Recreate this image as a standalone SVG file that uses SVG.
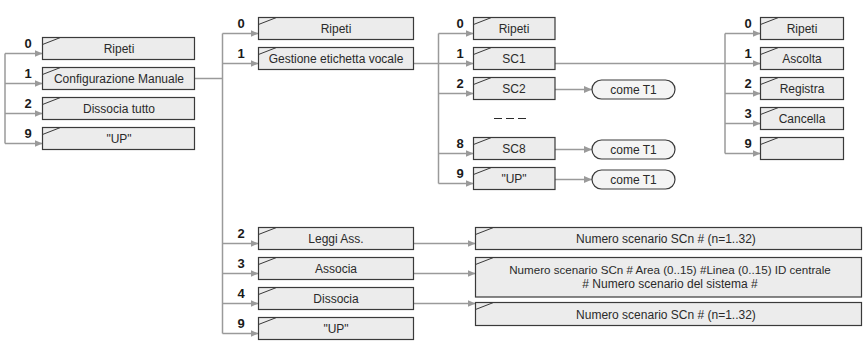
<svg xmlns="http://www.w3.org/2000/svg" width="865" height="342" viewBox="0 0 865 342">
<defs>
<style>
.bx{fill:#ececec;stroke:#3a3a3a;stroke-width:1.2}
.dg{stroke:#3a3a3a;stroke-width:1;fill:none}
.pl{fill:#f4f4f4;stroke:#3a3a3a;stroke-width:1.2}
.t{font-family:"Liberation Sans",Arial,sans-serif;font-size:12px;fill:#2a2a2a;text-anchor:middle}
.tl{font-size:11.6px}
.n{font-family:"Liberation Sans",Arial,sans-serif;font-size:13px;font-weight:bold;fill:#1a1a1a;text-anchor:middle}
.c{stroke:#9a9a9a;stroke-width:1.5;fill:none}
.a{stroke:#9a9a9a;stroke-width:1.5;fill:none;marker-end:url(#ah)}
</style>
<marker id="ah" viewBox="0 0 8 8" refX="8" refY="4" markerWidth="8" markerHeight="8" markerUnits="userSpaceOnUse" orient="auto">
<path d="M0,0.5 L8,4 L0,7.5 z" fill="#9a9a9a"/>
</marker>
</defs>

<g id="connectors">
<path class="c" d="M5,53.5 V143.5"/>
<path class="a" d="M5,53.5 H42.5"/>
<path class="a" d="M5,83.5 H42.5"/>
<path class="a" d="M5,113.5 H42.5"/>
<path class="a" d="M5,143.5 H42.5"/>
<path class="c" d="M194.5,78.5 H222.5"/>
<path class="c" d="M222.5,33.5 V333.5"/>
<path class="a" d="M222.5,33.5 H258.5"/>
<path class="a" d="M222.5,63.5 H258.5"/>
<path class="a" d="M222.5,243.5 H258.5"/>
<path class="a" d="M222.5,273.5 H258.5"/>
<path class="a" d="M222.5,303.5 H258.5"/>
<path class="a" d="M222.5,333.5 H258.5"/>
<path class="c" d="M413.5,63.5 H438.5"/>
<path class="c" d="M438.5,33.5 V183.5"/>
<path class="a" d="M438.5,33.5 H473.5"/>
<path class="a" d="M438.5,63.5 H473.5"/>
<path class="a" d="M438.5,93.5 H473.5"/>
<path class="a" d="M438.5,153.5 H473.5"/>
<path class="a" d="M438.5,183.5 H473.5"/>
<path class="c" d="M555,63.5 H725"/>
<path class="c" d="M725,33.5 V153.5"/>
<path class="a" d="M725,33.5 H760.5"/>
<path class="a" d="M725,63.5 H760.5"/>
<path class="a" d="M725,93.5 H760.5"/>
<path class="a" d="M725,123.5 H760.5"/>
<path class="a" d="M725,153.5 H760.5"/>
<path class="a" d="M555,89.5 H592"/>
<path class="a" d="M555,149.5 H592"/>
<path class="a" d="M555,179.5 H592"/>
<path class="a" d="M413.5,243.5 H475.5"/>
<path class="a" d="M413.5,273.5 H475.5"/>
<path class="a" d="M413.5,303.5 H475.5"/>
</g>

<g id="l0"><text class="n" x="28" y="48">0</text><rect class="bx" x="42.5" y="37.5" width="152" height="22"/><path class="dg" d="M42.5,44.5 L60.5,37.5"/><text class="t" x="119" y="53">Ripeti</text></g>
<g id="l1"><text class="n" x="28" y="78">1</text><rect class="bx" x="42.5" y="67.5" width="152" height="22"/><path class="dg" d="M42.5,74.5 L60.5,67.5"/><text class="t" x="119" y="83">Configurazione Manuale</text></g>
<g id="l2"><text class="n" x="28" y="108">2</text><rect class="bx" x="42.5" y="97.5" width="152" height="22"/><path class="dg" d="M42.5,104.5 L60.5,97.5"/><text class="t" x="119" y="113">Dissocia tutto</text></g>
<g id="l9"><text class="n" x="28" y="138">9</text><rect class="bx" x="42.5" y="127.5" width="152" height="22"/><path class="dg" d="M42.5,134.5 L60.5,127.5"/><text class="t" x="119" y="143">"UP"</text></g>

<g id="m0"><text class="n" x="241" y="28">0</text><rect class="bx" x="258.5" y="17.5" width="155" height="22"/><path class="dg" d="M258.5,24.5 L276.5,17.5"/><text class="t" x="336" y="33">Ripeti</text></g>
<g id="m1"><text class="n" x="241" y="58">1</text><rect class="bx" x="258.5" y="47.5" width="155" height="22"/><path class="dg" d="M258.5,54.5 L276.5,47.5"/><text class="t" x="336" y="63">Gestione etichetta vocale</text></g>
<g id="m2"><text class="n" x="241" y="238">2</text><rect class="bx" x="258.5" y="227.5" width="155" height="22"/><path class="dg" d="M258.5,234.5 L276.5,227.5"/><text class="t" x="336" y="243">Leggi Ass.</text></g>
<g id="m3"><text class="n" x="241" y="268">3</text><rect class="bx" x="258.5" y="257.5" width="155" height="22"/><path class="dg" d="M258.5,264.5 L276.5,257.5"/><text class="t" x="336" y="273">Associa</text></g>
<g id="m4"><text class="n" x="241" y="298">4</text><rect class="bx" x="258.5" y="287.5" width="155" height="22"/><path class="dg" d="M258.5,294.5 L276.5,287.5"/><text class="t" x="336" y="303">Dissocia</text></g>
<g id="m9"><text class="n" x="241" y="328">9</text><rect class="bx" x="258.5" y="317.5" width="155" height="22"/><path class="dg" d="M258.5,324.5 L276.5,317.5"/><text class="t" x="336" y="333">"UP"</text></g>

<g id="s0"><text class="n" x="460" y="28">0</text><rect class="bx" x="473.5" y="17.5" width="81.5" height="22"/><path class="dg" d="M473.5,24.5 L491.5,17.5"/><text class="t" x="514" y="33">Ripeti</text></g>
<g id="s1"><text class="n" x="460" y="58">1</text><rect class="bx" x="473.5" y="47.5" width="81.5" height="22"/><path class="dg" d="M473.5,54.5 L491.5,47.5"/><text class="t" x="514" y="63">SC1</text></g>
<g id="s2"><text class="n" x="460" y="88">2</text><rect class="bx" x="473.5" y="77.5" width="81.5" height="22"/><path class="dg" d="M473.5,84.5 L491.5,77.5"/><text class="t" x="514" y="93">SC2</text></g>
<g id="dots"><path d="M494,118.5 H526" stroke="#2a2a2a" stroke-width="1.2" stroke-dasharray="8 4"/></g>
<g id="s8"><text class="n" x="460" y="148">8</text><rect class="bx" x="473.5" y="137.5" width="81.5" height="22"/><path class="dg" d="M473.5,144.5 L491.5,137.5"/><text class="t" x="514" y="153">SC8</text></g>
<g id="s9"><text class="n" x="460" y="178">9</text><rect class="bx" x="473.5" y="167.5" width="81.5" height="22"/><path class="dg" d="M473.5,174.5 L491.5,167.5"/><text class="t" x="514" y="183">"UP"</text></g>

<g id="p2"><rect class="pl" x="592" y="80" width="83" height="19" rx="9.5"/><text class="t" x="633.5" y="94">come T1</text></g>
<g id="p8"><rect class="pl" x="592" y="140" width="83" height="19" rx="9.5"/><text class="t" x="633.5" y="154">come T1</text></g>
<g id="p9"><rect class="pl" x="592" y="170" width="83" height="19" rx="9.5"/><text class="t" x="633.5" y="184">come T1</text></g>

<g id="r0"><text class="n" x="748" y="28">0</text><rect class="bx" x="760.5" y="17.5" width="83" height="22"/><path class="dg" d="M760.5,24.5 L778.5,17.5"/><text class="t" x="802" y="33">Ripeti</text></g>
<g id="r1"><text class="n" x="748" y="58">1</text><rect class="bx" x="760.5" y="47.5" width="83" height="22"/><path class="dg" d="M760.5,54.5 L778.5,47.5"/><text class="t" x="802" y="63">Ascolta</text></g>
<g id="r2"><text class="n" x="748" y="88">2</text><rect class="bx" x="760.5" y="77.5" width="83" height="22"/><path class="dg" d="M760.5,84.5 L778.5,77.5"/><text class="t" x="802" y="93">Registra</text></g>
<g id="r3"><text class="n" x="748" y="118">3</text><rect class="bx" x="760.5" y="107.5" width="83" height="22"/><path class="dg" d="M760.5,114.5 L778.5,107.5"/><text class="t" x="802" y="123">Cancella</text></g>
<g id="r9"><text class="n" x="748" y="148">9</text><rect class="bx" x="760.5" y="137.5" width="83" height="22"/><path class="dg" d="M760.5,144.5 L778.5,137.5"/></g>

<g id="nA"><rect class="bx" x="475.5" y="227.5" width="386" height="22"/><path class="dg" d="M475.5,234.5 L493.5,227.5"/><text class="t" x="666" y="243">Numero scenario SCn # (n=1..32)</text></g>
<g id="nB"><rect class="bx" x="475.5" y="257.5" width="386" height="39.5"/><path class="dg" d="M475.5,264.5 L493.5,257.5"/><text class="t tl" x="670" y="273.5">Numero scenario SCn # Area (0..15) #Linea (0..15) ID centrale</text><text class="t" x="670" y="288"># Numero scenario del sistema #</text></g>
<g id="nC"><rect class="bx" x="475.5" y="302.5" width="386" height="23"/><path class="dg" d="M475.5,309.5 L493.5,302.5"/><text class="t" x="666" y="318.5">Numero scenario SCn # (n=1..32)</text></g>
</svg>
